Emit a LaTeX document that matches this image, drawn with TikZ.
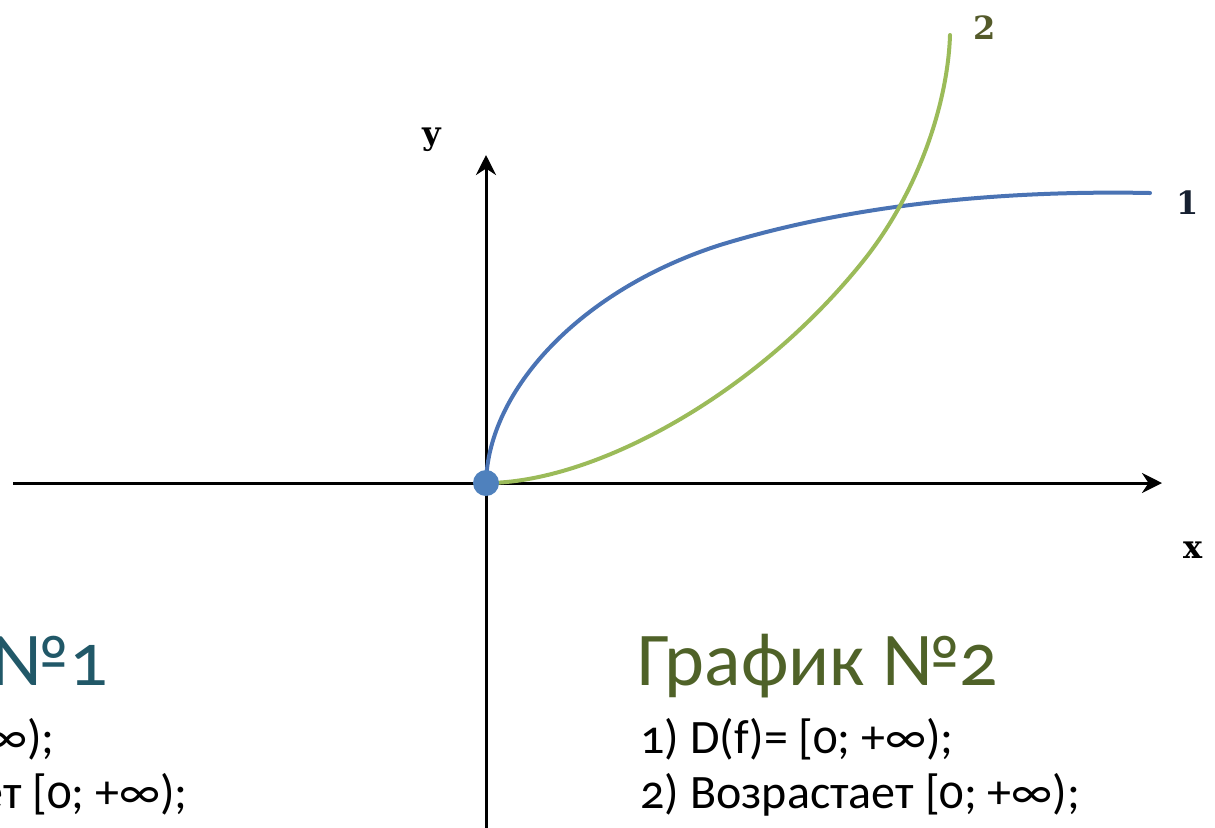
\documentclass[tikz,border=0pt]{standalone}
\usepackage{fontspec}
\setmainfont[Numbers=OldStyle]{Carlito}
\newfontfamily\labelfont{DejaVu Serif}
\usetikzlibrary{arrows.meta}

\definecolor{curveblue}{RGB}{74,115,180}
\definecolor{curvegreen}{RGB}{155,187,89}
\definecolor{dotblue}{RGB}{79,129,189}
\definecolor{headteal}{RGB}{33,88,104}
\definecolor{headolive}{RGB}{79,98,40}
\definecolor{labnavy}{RGB}{22,32,48}
\definecolor{labolive}{RGB}{84,90,42}

\tikzset{
  axis/.style={black, line width=1.5pt, -{Stealth[length=10pt, width=10pt]}},
  graph/.style={line width=2pt, line cap=round},
  axlabel/.style={font=\labelfont\bfseries\fontsize{16}{16}\selectfont},
  heading/.style={inner sep=0pt, font=\fontsize{38}{38}\selectfont},
  prop/.style={inner sep=0pt, font=\fontsize{24}{24}\selectfont}
}

\begin{document}
\begin{tikzpicture}[x=0.5pt,y=-0.5pt]
\useasboundingbox (0,0) rectangle (1215,827);
\clip (0,0) rectangle (1215,827);
% axes
\coordinate (O) at (486,483);
\coordinate (xs) at (13,483);
\coordinate (xe) at (1162,483);
\coordinate (ys) at (486,830);
\coordinate (ye) at (486,155);
\draw[axis] (xs) -- (xe);
\draw[axis] (ys) -- (ye);
\node[axlabel] (xlab) at (1193,550) {x};
\node[axlabel] (ylab) at (432,140) {y};
% graph 1
\draw[graph, curveblue] (O) .. controls (488,390) and (580,290) .. (720,245)
  .. controls (850,205) and (1000,190) .. (1150,193);
% graph 2
\draw[graph, curvegreen] (O) .. controls (590,483) and (750,400) .. (860,265)
  .. controls (920,192) and (948,100) .. (950,35);
\fill[dotblue] (O) circle (13);
\node[axlabel, labnavy] (lab1) at (1188,203) {1};
\node[axlabel, labolive] (lab2) at (985,28) {2};
% text blocks
\node[heading, headteal, anchor=base east] (head1) at (108,685) {График №1};
\node[prop, anchor=base east] (p11) at (55,753) {1) D(f)= [0; +∞);};
\node[prop, anchor=base east] (p12) at (188,808) {2) Возрастает [0; +∞);};
\node[heading, headolive, anchor=base west] (head2) at (637,685) {График №2};
\node[prop, anchor=base west] (p21) at (640,753) {1) D(f)= [0; +∞);};
\node[prop, anchor=base west] (p22) at (640,808) {2) Возрастает [0; +∞);};
\end{tikzpicture}
\end{document}
